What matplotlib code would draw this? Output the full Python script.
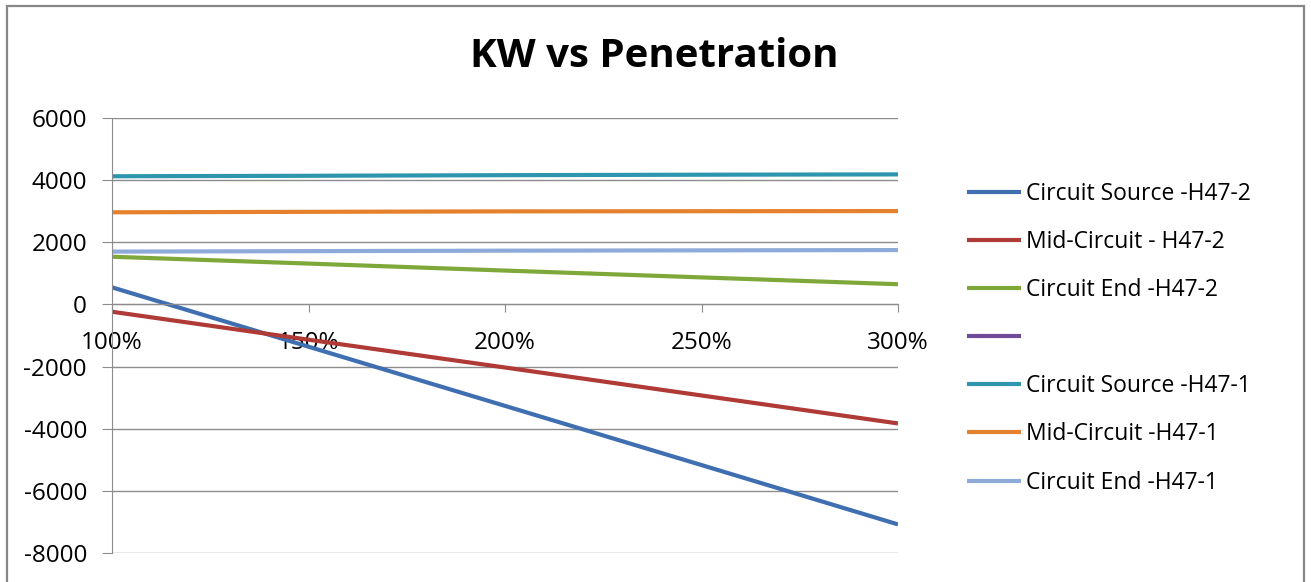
import numpy as np
import matplotlib
matplotlib.use("Agg")
import matplotlib.pyplot as plt
from matplotlib.patches import Rectangle
from matplotlib.ticker import FuncFormatter

plt.rcParams['font.family'] = ['Open Sans', 'DejaVu Sans']
plt.rcParams['axes.unicode_minus'] = False

# Datos
penetracion = [100, 150, 200, 250, 300]   # %
series = [
    ("Circuit Source -H47-2", [550, -1360, -3265, -5170, -7080]),
    ("Mid-Circuit - H47-2",  [-235, -1135, -2030, -2930, -3830]),
    ("Circuit End -H47-2",   [1535, 1315, 1090, 870, 650]),
    ("",                     []),
    ("Circuit Source -H47-1", [4125, 4140, 4160, 4175, 4185]),
    ("Mid-Circuit -H47-1",   [2965, 2980, 2995, 3000, 3005]),
    ("Circuit End -H47-1",   [1700, 1715, 1730, 1740, 1750]),
]
colores = ['#3F6FB0', '#B03A35', '#7FA83A', '#6E4A98', '#2E95AE', '#E5802D', '#8EAAD8']

fig = plt.figure(figsize=(13.11, 5.82), dpi=100)

# borde del area del grafico
fig.patches.append(Rectangle((7 / 1311, -0.05), (1304 - 7) / 1311, 1.05 - 6 / 582,
                             transform=fig.transFigure, fill=False,
                             edgecolor='#878787', linewidth=1.6))

ax = fig.add_axes([112 / 1311, 1 - 553 / 582, (898 - 112) / 1311, (553 - 118) / 582])

handles = []
for (nombre, vals), c in zip(series, colores):
    xs = penetracion[:len(vals)]
    h, = ax.plot(xs, vals, color=c, linewidth=3, solid_capstyle='butt')
    handles.append(h)

ax.set_xlim(100, 300)
ax.set_ylim(-8000, 6000)
ax.set_yticks(np.arange(-8000, 6001, 2000))
ax.set_xticks([100, 150, 200, 250, 300])
ax.xaxis.set_major_formatter(FuncFormatter(lambda v, p: f"{int(v)}%"))
ax.yaxis.grid(True, color='#8C8C8C', linewidth=1)
ax.set_axisbelow(True)

for s in ['top', 'right']:
    ax.spines[s].set_visible(False)
ax.spines['bottom'].set_position(('data', 0))
ax.spines['bottom'].set_color('#8C8C8C')
ax.spines['left'].set_color('#8C8C8C')
ax.tick_params(axis='x', direction='out', length=6, color='#8C8C8C', pad=13, labelsize=17.5)
ax.tick_params(axis='y', direction='out', length=7, color='#8C8C8C', pad=11, labelsize=17.5)

fig.text(654.5 / 1311, 1 - 67 / 582, "KW vs Penetration", ha='center', va='baseline',
         fontsize=29, fontweight='bold')

leg = ax.legend(handles, [s[0] for s in series], loc='upper left',
                bbox_to_anchor=(958 / 1311, 1 - 173 / 582), bbox_transform=fig.transFigure,
                frameon=False, fontsize=16.5, handlelength=2.35, handletextpad=0.2,
                labelspacing=1.05, borderaxespad=0)
for l in leg.get_lines():
    l.set_linewidth(3)

fig.savefig("out.png", dpi=100)
